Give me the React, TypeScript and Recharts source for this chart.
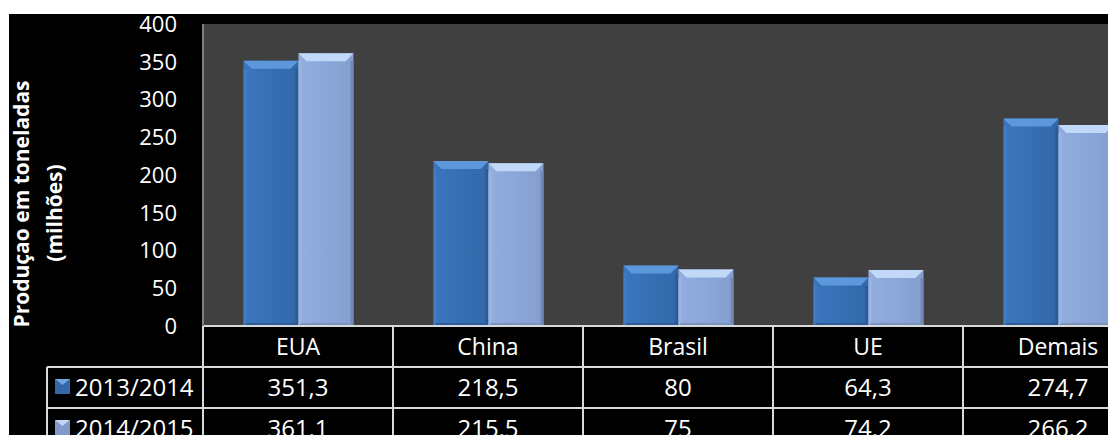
import React from 'react'
import { BarChart, Bar, XAxis, YAxis, CartesianGrid } from 'recharts'

const categories = ['EUA', 'China', 'Brasil', 'UE', 'Demais']
const serie2013 = [351.3, 218.5, 80, 64.3, 274.7]
const serie2014 = [361.1, 215.5, 75, 74.2, 266.2]
const seriesNames = ['2013/2014', '2014/2015']
const yTicks = [0, 50, 100, 150, 200, 250, 300, 350, 400]

const data = categories.map((name, i) => ({ name, s1: serie2013[i], s2: serie2014[i] }))

const W = 1144
const H = 421
const PLOT_LEFT = 194
const PLOT_TOP = 10
const PLOT_BOTTOM = 312
const COL_W = (W - PLOT_LEFT) / categories.length
const ROW_H = 41
const LEGEND_LEFT = 38
const FONT = '"Open Sans", sans-serif'
const LINE = '#d9d9d9'

const fmt = (v: number) => String(v).replace('.', ',')

// bar with the beveled office look
function BevelBar(props: any) {
  const { x, y, width, height, idx } = props
  if (!height || height <= 0) return null
  const b = Math.min(8, height / 2)
  const s = 3
  const pal = idx === 0
    ? { top: '#5d98dc', left: '#3f7cc4', right: '#2b5a95', bottom: '#2c5d99', grad: 'g1' }
    : { top: '#c2d8f8', left: '#9ab5e2', right: '#7189b6', bottom: '#7a93bf', grad: 'g2' }
  return (
    <g>
      <rect x={x} y={y} width={width} height={height} fill={`url(#${pal.grad})`} />
      <polygon points={`${x},${y + b} ${x + s},${y + b} ${x + s},${y + height - s} ${x},${y + height}`} fill={pal.left} />
      <polygon points={`${x + width},${y + b} ${x + width - s},${y + b} ${x + width - s},${y + height - s} ${x + width},${y + height}`} fill={pal.right} />
      <polygon points={`${x},${y + height} ${x + s},${y + height - s} ${x + width - s},${y + height - s} ${x + width},${y + height}`} fill={pal.bottom} />
      <polygon points={`${x},${y} ${x + width},${y} ${x + width - b},${y + b} ${x + b},${y + b}`} fill={pal.top} />
    </g>
  )
}

function LegendIcon({ x, y, idx }: { x: number; y: number; idx: number }) {
  return (
    <g>
      <rect x={x} y={y} width={15} height={15} fill={idx === 0 ? '#3567a8' : '#8099c6'} />
      <polygon points={`${x},${y} ${x + 15},${y} ${x + 7.5},${y + 6}`} fill={idx === 0 ? '#6ea6e6' : '#c3d7f5'} />
    </g>
  )
}

function TableTick(props: any) {
  const { x, index } = props
  const left = x - COL_W / 2
  const right = x + COL_W / 2
  const rows = [serie2013[index], serie2014[index]]
  return (
    <g>
      {index === 0 && (
        <g>
          <line x1={LEGEND_LEFT} y1={PLOT_BOTTOM + ROW_H} x2={W} y2={PLOT_BOTTOM + ROW_H} stroke={LINE} strokeWidth={2} />
          <line x1={LEGEND_LEFT} y1={PLOT_BOTTOM + ROW_H * 2} x2={W} y2={PLOT_BOTTOM + ROW_H * 2} stroke={LINE} strokeWidth={2} />
          <line x1={LEGEND_LEFT} y1={PLOT_BOTTOM + ROW_H} x2={LEGEND_LEFT} y2={H} stroke={LINE} strokeWidth={2} />
          {seriesNames.map((s, i) => (
            <g key={s}>
              <LegendIcon x={LEGEND_LEFT + 8} y={PLOT_BOTTOM + ROW_H * (i + 1) + 12} idx={i} />
              <text x={LEGEND_LEFT + 28} y={PLOT_BOTTOM + ROW_H * (i + 1.5) + 8.5} fill="#fff" fontSize={24} fontFamily={FONT}>{s}</text>
            </g>
          ))}
          <line x1={left} y1={PLOT_BOTTOM} x2={left} y2={H} stroke={LINE} strokeWidth={2} />
        </g>
      )}
      <line x1={right} y1={PLOT_BOTTOM} x2={right} y2={H} stroke={LINE} strokeWidth={2} />
      <text x={x} y={PLOT_BOTTOM + ROW_H * 0.5 + 8} textAnchor="middle" fill="#fff" fontSize={23} fontFamily={FONT}>{categories[index]}</text>
      {rows.map((v, i) => (
        <text key={i} x={x} y={PLOT_BOTTOM + ROW_H * (i + 1.5) + 8.5} textAnchor="middle" fill="#fff" fontSize={24} fontFamily={FONT}>{fmt(v)}</text>
      ))}
    </g>
  )
}

function AxisTitle() {
  return (
    <g fill="#fff" fontSize={21} fontWeight="bold" fontFamily={FONT}>
      <text x={20} y={190} textAnchor="middle" transform="rotate(-90 20 190)">Produçao em toneladas</text>
      <text x={53} y={199} textAnchor="middle" transform="rotate(-90 53 199)">(milhões)</text>
    </g>
  )
}

export default function App() {
  return (
    <>
      <style>{'body{margin:0;overflow:hidden}'}</style>
      <div style={{ position: 'absolute', left: 9, top: 14, width: 1099, height: H, background: '#000', overflow: 'hidden' }}>
        <BarChart
          width={W}
          height={H}
          data={data}
          margin={{ top: PLOT_TOP, right: 0, bottom: 0, left: 0 }}
          barCategoryGap="21.3%"
          barGap={0}
        >
          <defs>
            <linearGradient id="g1" x1="0" y1="0" x2="1" y2="0">
              <stop offset="0%" stopColor="#3b76bd" />
              <stop offset="100%" stopColor="#3268aa" />
            </linearGradient>
            <linearGradient id="g2" x1="0" y1="0" x2="1" y2="0">
              <stop offset="0%" stopColor="#92aedf" />
              <stop offset="100%" stopColor="#849fcf" />
            </linearGradient>
          </defs>
          <CartesianGrid fill="#404040" stroke="none" horizontal={false} vertical={false} />
          <XAxis
            dataKey="name"
            height={H - PLOT_BOTTOM}
            interval={0}
            tickLine={false}
            tickSize={0}
            axisLine={{ stroke: LINE, strokeWidth: 2 }}
            tick={<TableTick />}
          />
          <YAxis
            width={PLOT_LEFT}
            domain={[0, 400]}
            ticks={yTicks}
            interval={0}
            tickLine={false}
            tickSize={0}
            tickMargin={26}
            axisLine={{ stroke: '#7f7f7f', strokeWidth: 2 }}
            tick={{ fill: '#fff', fontSize: 22, fontFamily: FONT }}
            label={{ content: () => <AxisTitle /> }}
          />
          <Bar dataKey="s1" name={seriesNames[0]} isAnimationActive={false} shape={(p: any) => <BevelBar {...p} idx={0} />} />
          <Bar dataKey="s2" name={seriesNames[1]} isAnimationActive={false} shape={(p: any) => <BevelBar {...p} idx={1} />} />
        </BarChart>
      </div>
    </>
  )
}
